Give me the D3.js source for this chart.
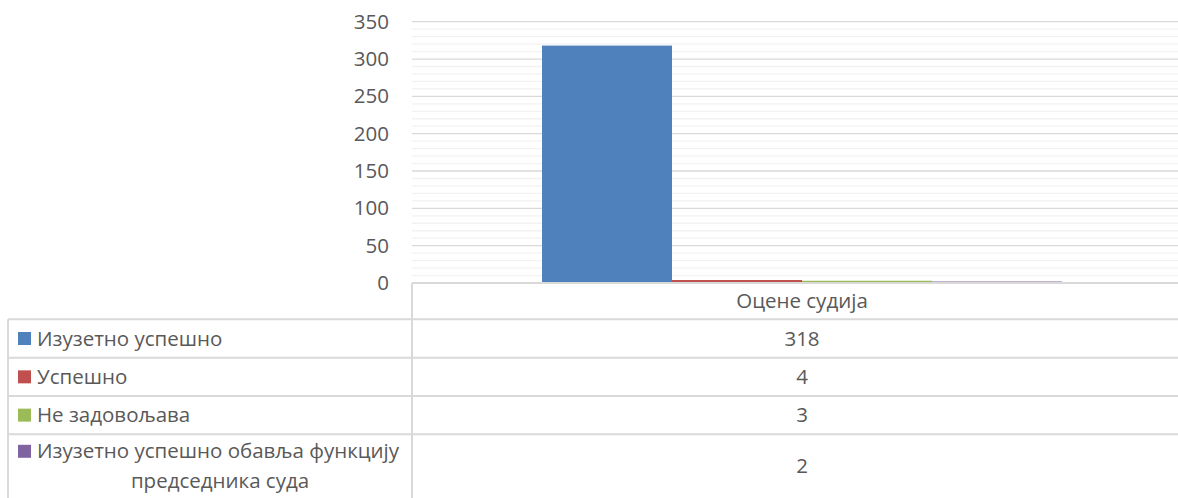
<!DOCTYPE html>
<html>
<head>
<meta charset="utf-8">
<script src="https://cdn.jsdelivr.net/npm/d3@7"></script>
<style>
  body { margin: 0; background: #fff; }
  text { font-family: "Open Sans", sans-serif; fill: #595959; }
</style>
</head>
<body>
<div id="chart"></div>
<script>
// data
var categories = ["Оцене судија"];
var seriesNames = ["Изузетно успешно", "Успешно", "Не задовољава", "Изузетно успешно обавља функцију председника суда"];
var seriesLines = [["Изузетно успешно"], ["Успешно"], ["Не задовољава"], ["Изузетно успешно обавља функцију", "председника суда"]];
var seriesValues = [318, 4, 3, 2];
var seriesColors = ["#4F81BD", "#C0504D", "#9BBB59", "#8064A2"];
var majorTicks = [0, 50, 100, 150, 200, 250, 300, 350];
var minorTicks = [10, 20, 30, 40, 60, 70, 80, 90, 110, 120, 130, 140, 160, 170, 180, 190,
  210, 220, 230, 240, 260, 270, 280, 290, 310, 320, 330, 340];

var svgWidth = 1178;
var svgHeight = 498;

var plot = { left: 412, right: 1192, top: 21.7, bottom: 283 };
var tableLeft = 8;
var headerBottom = 319.3;
var rowHeights = [38.4, 38.3, 38.3, 64];
var fontSize = 20.5;
var gridMajor = "#D9D9D9";
var gridMinor = "#F2F2F2";

var svg = d3.select("#chart")
  .append("svg")
  .attr("width", svgWidth)
  .attr("height", svgHeight);

// scales
var yScale = d3.scaleLinear()
  .domain([0, 350])
  .range([plot.bottom, plot.top]);

var x0 = d3.scaleBand()
  .domain(categories)
  .range([plot.left, plot.right]);

var x1 = d3.scaleBand()
  .domain(seriesNames)
  .range([0, x0.bandwidth()])
  .paddingOuter(1);

// minor gridlines
svg.append("g")
  .selectAll("line")
  .data(minorTicks)
  .enter()
  .append("line")
  .attr("x1", plot.left)
  .attr("x2", svgWidth)
  .attr("y1", d => yScale(d))
  .attr("y2", d => yScale(d))
  .attr("stroke", gridMinor)
  .attr("stroke-width", 1.3);

// major gridlines
svg.append("g")
  .selectAll("line")
  .data(majorTicks.filter(d => d > 0))
  .enter()
  .append("line")
  .attr("x1", plot.left)
  .attr("x2", svgWidth)
  .attr("y1", d => yScale(d))
  .attr("y2", d => yScale(d))
  .attr("stroke", gridMajor)
  .attr("stroke-width", 1.3);

// y axis labels
var yAxis = d3.axisLeft(yScale)
  .tickValues(majorTicks)
  .tickSize(0)
  .tickPadding(23);

var yAxisG = svg.append("g")
  .attr("transform", `translate(${plot.left}, 0)`)
  .call(yAxis);
yAxisG.select(".domain").remove();
yAxisG.selectAll("text")
  .attr("font-family", "Open Sans")
  .attr("font-size", fontSize)
  .style("fill", "#595959");

// bars
var rows = seriesNames.map((name, i) => ({ name: name, value: seriesValues[i], color: seriesColors[i], lines: seriesLines[i] }));

svg.append("g")
  .selectAll("rect")
  .data(rows)
  .enter()
  .append("rect")
  .attr("x", d => x0(categories[0]) + x1(d.name))
  .attr("width", x1.bandwidth())
  .attr("y", d => yScale(d.value))
  .attr("height", d => yScale(0) - yScale(d.value))
  .attr("fill", d => d.color);

// data table
var lineColor = "#D9D9D9";
var table = svg.append("g");
var rowTops = [headerBottom];
rowHeights.forEach((h, i) => rowTops.push(rowTops[i] + h));

// baseline / header top
table.append("line")
  .attr("x1", plot.left).attr("x2", svgWidth)
  .attr("y1", plot.bottom).attr("y2", plot.bottom)
  .attr("stroke", lineColor).attr("stroke-width", 2);

// row lines
table.selectAll(".rowline")
  .data(rowTops.slice(0, 4))
  .enter()
  .append("line")
  .attr("x1", tableLeft).attr("x2", svgWidth)
  .attr("y1", d => d).attr("y2", d => d)
  .attr("stroke", lineColor).attr("stroke-width", 2);

// vertical lines
table.append("line")
  .attr("x1", plot.left).attr("x2", plot.left)
  .attr("y1", plot.bottom).attr("y2", svgHeight)
  .attr("stroke", lineColor).attr("stroke-width", 2);
table.append("line")
  .attr("x1", tableLeft).attr("x2", tableLeft)
  .attr("y1", headerBottom).attr("y2", svgHeight)
  .attr("stroke", lineColor).attr("stroke-width", 2);

// category header
var colCenter = x0(categories[0]) + x0.bandwidth() / 2;
table.append("text")
  .attr("x", colCenter)
  .attr("y", (plot.bottom + headerBottom) / 2)
  .attr("dy", "0.35em")
  .attr("text-anchor", "middle")
  .attr("font-size", fontSize)
  .text(categories[0]);

rows.forEach(function(d, i) {
  var top = rowTops[i];
  var h = rowHeights[i];
  var mid = top + h / 2;

  // value
  table.append("text")
    .attr("x", colCenter)
    .attr("y", mid)
    .attr("dy", "0.35em")
    .attr("text-anchor", "middle")
    .attr("font-size", fontSize)
    .text(d.value);

  // legend label
  var lineGap = 30;
  var firstY = mid - (d.lines.length - 1) * lineGap / 2;
  var labelCenter = 220;

  d.lines.forEach(function(line, j) {
    var t = table.append("text")
      .attr("y", firstY + j * lineGap)
      .attr("dy", "0.35em")
      .attr("font-size", fontSize)
      .text(line);
    if (j === 0) {
      t.attr("x", 37);
    } else {
      t.attr("x", labelCenter).attr("text-anchor", "middle");
    }
  });

  table.append("rect")
    .attr("x", 18)
    .attr("y", firstY - 6.5)
    .attr("width", 13)
    .attr("height", 13)
    .attr("fill", d.color);
});
</script>
</body>
</html>
